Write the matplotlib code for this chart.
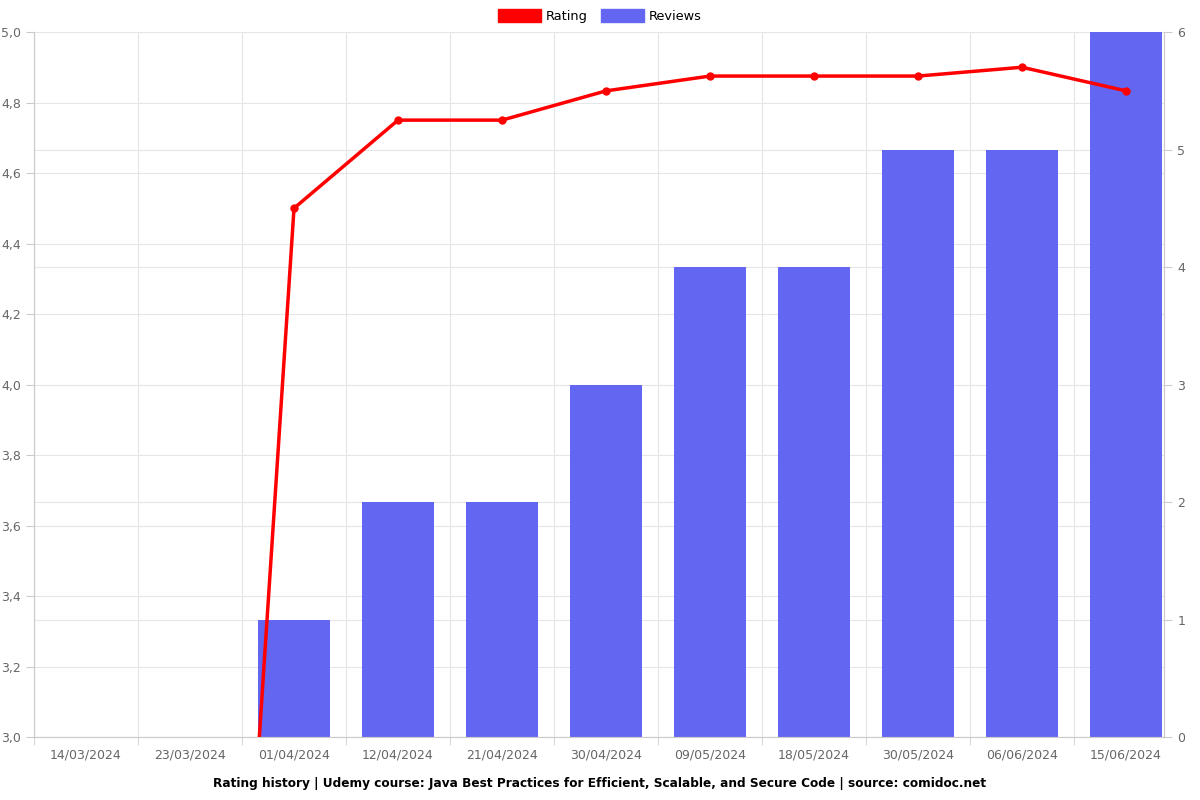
import numpy as np
import matplotlib
matplotlib.use("Agg")
import matplotlib.pyplot as plt
from matplotlib.patches import Patch
from matplotlib.ticker import FuncFormatter

# data
dates = ["14/03/2024", "23/03/2024", "01/04/2024", "12/04/2024", "21/04/2024",
         "30/04/2024", "09/05/2024", "18/05/2024", "30/05/2024", "06/06/2024",
         "15/06/2024"]
reviews = [0, 0, 1, 2, 2, 3, 4, 4, 5, 5, 6]
rating = [0, 0, 4.5, 4.75, 4.75, 4.833, 4.875, 4.875, 4.875, 4.9, 4.833]

bar_color = "#6366F1"
line_color = "#FF0000"
text_color = "#666666"
spine_color = "#CCCCCC"
grid_color = "#E6E6E6"

fig = plt.figure(figsize=(12, 8), dpi=100)
ax = fig.add_axes([34 / 1200, 1 - 737 / 800, 1130 / 1200, 705 / 800])
ax2 = ax.twinx()

x = np.arange(len(dates))

## bars on the base axes (right scale 0-6)
ax.bar(x, reviews, width=0.70, color=bar_color, zorder=2)
ax.set_ylim(0, 6)
ax.set_xlim(-0.5, len(dates) - 0.635)
ax.yaxis.tick_right()
ax.set_yticks(range(0, 7))
## the left-scale grid (3.0..5.0 step 0.2) mapped onto the 0..6 scale
left_ticks = np.arange(3.0, 5.01, 0.2)
ax.set_yticks((left_ticks - 3.0) * 3, minor=True)
ax.tick_params(axis="y", which="minor", length=0)
ax.set_axisbelow(True)
ax.grid(axis="y", which="both", color=grid_color, linewidth=0.8)

## x axis: labels at centers, ticks + grid at the boundaries
ax.set_xticks(x)
ax.set_xticklabels(dates)
ax.set_xticks(np.arange(-0.5, len(dates) - 1, 1), minor=True)
ax.tick_params(axis="x", which="major", length=0, pad=8)
ax.tick_params(axis="x", which="minor", length=6, color=spine_color)
ax.grid(axis="x", which="minor", color=grid_color, linewidth=0.8)

## rating line on the twin axes (left scale 3-5)
ax2.plot(x, rating, color=line_color, linewidth=2.5, marker="o", markersize=5,
         zorder=3)
ax2.set_ylim(3.0, 5.0)
ax2.set_yticks(left_ticks)
ax2.yaxis.tick_left()
ax2.yaxis.set_major_formatter(FuncFormatter(lambda v, p: f"{v:.1f}".replace(".", ",")))

for a in (ax, ax2):
    a.tick_params(colors=text_color, labelsize=9)
    a.tick_params(axis="y", color=spine_color, length=6)
    for s in a.spines.values():
        s.set_color(spine_color)
    a.spines["top"].set_visible(False)
ax.tick_params(axis="x", which="minor", color=spine_color)

## legend at the top
handles = [Patch(color=line_color, label="Rating"), Patch(color=bar_color, label="Reviews")]
fig.legend(handles=handles, loc="upper center", bbox_to_anchor=(0.5, 1.003),
           ncol=2, frameon=False, fontsize=9.3, handlelength=3.3, handleheight=1.2,
           columnspacing=1.0, handletextpad=0.4)

fig.text(0.5, 1 - 783 / 800,
         "Rating history | Udemy course: Java Best Practices for Efficient, Scalable, and Secure Code | source: comidoc.net",
         ha="center", va="center", fontsize=8.7, fontweight="bold")

fig.savefig("out.png", dpi=100)
